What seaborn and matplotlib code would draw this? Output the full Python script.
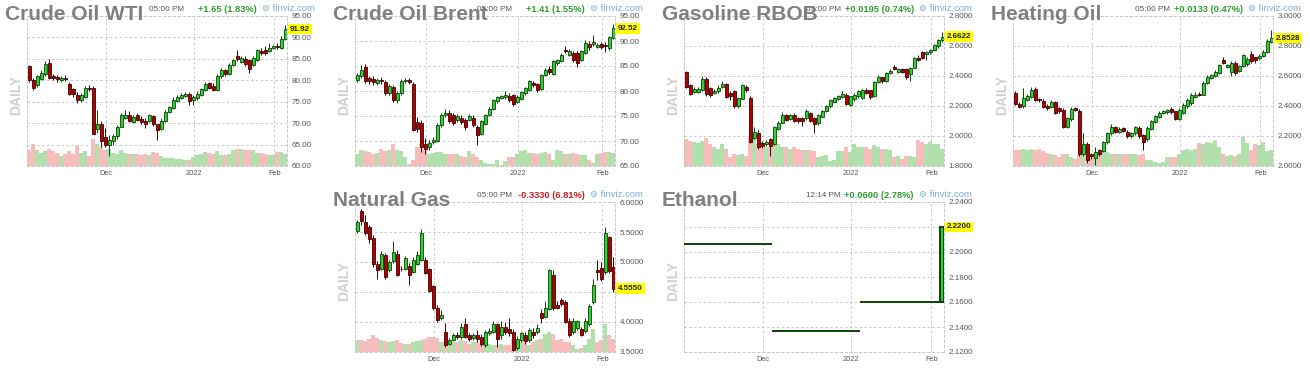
import numpy as np
import pandas as pd
import matplotlib
matplotlib.use("Agg")
import matplotlib.pyplot as plt
import matplotlib.transforms as mtransforms
import seaborn as sns

# finviz futures snapshot, daily candles Nov 2021 - Feb 4 2022
nymex_holidays = ["2021-11-25", "2021-12-24", "2022-01-17"]
nymex_days = pd.bdate_range("2021-11-03", "2022-02-04")
nymex_days = nymex_days[~nymex_days.isin(pd.to_datetime(nymex_holidays))]
ice_days = pd.bdate_range("2021-11-08", "2022-02-04")

# --- Crude Oil WTI
wti_open = [83.3, 80.0, 78.8, 80.4, 81.4, 84.1, 80.9, 80.8, 80.0, 80.6, 79.2, 78.0, 76.6, 75.3, 76.1, 78.3,
            78.3, 68.7, 69.8, 66.7, 65.0, 65.9, 66.9, 69.2, 71.3, 72.0, 70.3, 71.8, 71.0, 70.6, 70.6, 71.6,
            69.7, 68.7, 70.6, 72.6, 73.5, 75.2, 75.9, 76.3, 76.8, 75.3, 75.8, 76.6, 77.8, 79.3, 78.6, 77.8,
            81.0, 82.5, 81.4, 83.6, 85.6, 84.3, 84.9, 84.7, 83.5, 84.8, 86.9, 87.1, 86.9, 87.6, 88.0, 87.5, 89.7]
wti_close = [80.0, 78.3, 80.9, 81.6, 83.7, 80.6, 80.6, 80.2, 80.5, 80.2, 76.7, 76.9, 75.3, 76.5, 78.3, 78.0,
             67.5, 69.7, 65.9, 65.0, 66.1, 67.1, 69.2, 71.8, 72.0, 70.6, 71.4, 70.8, 70.2, 69.8, 71.8, 69.7,
             68.3, 70.6, 72.6, 73.7, 75.5, 76.0, 76.5, 76.8, 75.1, 76.2, 76.9, 77.9, 79.2, 78.3, 77.7, 80.9,
             82.4, 81.4, 83.5, 84.7, 84.9, 85.2, 83.9, 82.7, 85.3, 87.0, 86.3, 86.4, 87.5, 88.0, 87.7, 89.7, 91.92]
wti_high = [83.6, 80.6, 81.3, 82.3, 84.5, 85.0, 81.4, 81.2, 80.9, 81.2, 79.6, 78.3, 77.2, 77.0, 78.6, 78.8,
            78.6, 73.0, 70.4, 68.8, 67.3, 67.5, 69.6, 72.4, 73.1, 72.8, 72.0, 72.4, 71.6, 71.1, 72.2, 72.0,
            69.9, 71.1, 73.0, 74.0, 76.0, 76.6, 77.0, 77.3, 77.2, 76.5, 77.6, 78.3, 79.6, 79.6, 79.3, 81.4,
            82.8, 82.6, 84.0, 85.0, 87.0, 85.6, 85.6, 84.9, 85.7, 87.3, 87.6, 88.0, 88.6, 88.3, 88.7, 90.4, 93.0]
wti_low = [79.6, 77.8, 78.5, 80.1, 81.1, 80.2, 80.1, 79.6, 79.6, 79.8, 76.5, 76.2, 74.6, 75.0, 75.8, 77.6,
           67.4, 67.6, 64.4, 64.4, 62.4, 64.8, 66.4, 69.0, 71.0, 70.2, 70.0, 70.5, 69.8, 68.9, 70.3, 69.4,
           66.1, 68.4, 70.3, 72.4, 73.3, 75.0, 75.6, 76.1, 74.3, 74.3, 75.5, 76.4, 77.6, 77.9, 77.5, 77.6,
           80.6, 81.0, 81.2, 83.4, 84.5, 84.0, 83.3, 81.8, 83.3, 84.4, 85.8, 86.0, 86.6, 87.4, 87.2, 87.3, 89.3]
wti_volume = [49, 67, 49, 39, 45, 52, 45, 39, 29, 35, 45, 35, 60, 39, 45, 29, 82, 67, 57, 49, 52, 40,
              35, 47, 39, 35, 35, 35, 32, 35, 32, 42, 39, 29, 25, 23, 23, 21, 21, 19, 19, 27, 32, 37,
              42, 39, 35, 45, 34, 34, 35, 47, 50, 52, 49, 47, 47, 39, 39, 37, 33, 33, 42, 42, 37]
wti_ticks = [60, 65, 70, 75, 80, 85, 90, 95]

# --- Crude Oil Brent
brent_open = [82.2, 83.0, 84.9, 82.6, 82.5, 81.7, 82.3, 81.9, 79.7, 80.9, 78.2, 79.6, 82.0, 82.2, 81.4, 73.9,
              73.7, 69.5, 68.8, 69.8, 70.0, 73.2, 75.2, 75.6, 75.2, 74.2, 74.6, 74.2, 74.3, 74.7, 72.9, 71.5,
              73.5, 75.2, 76.5, 78.0, 78.6, 78.8, 79.0, 79.2, 77.9, 78.5, 79.6, 80.2, 81.6, 81.4, 80.5, 83.2,
              84.5, 83.5, 85.6, 86.0, 88.3, 87.3, 87.6, 87.6, 86.2, 87.7, 89.5, 89.5, 88.9, 89.4, 89.3, 88.6, 90.7]
brent_close = [83.2, 84.3, 82.1, 81.9, 81.7, 82.2, 81.9, 79.7, 81.0, 78.3, 79.6, 82.1, 82.2, 81.8, 72.3, 72.5,
               68.9, 68.5, 69.6, 70.3, 73.3, 75.2, 75.6, 74.0, 73.7, 75.1, 73.8, 72.8, 75.0, 73.2, 71.2, 73.9,
               75.2, 76.5, 78.2, 78.7, 78.9, 79.2, 78.3, 77.4, 78.9, 79.7, 80.6, 81.9, 81.2, 80.2, 83.2, 84.3,
               83.8, 85.9, 86.2, 87.3, 87.9, 87.9, 86.2, 85.5, 87.9, 89.7, 88.7, 89.7, 89.2, 88.9, 88.9, 90.7, 92.52]
brent_high = [83.6, 85.2, 85.4, 83.0, 83.0, 82.6, 82.8, 82.2, 81.4, 81.2, 80.0, 82.5, 82.6, 82.6, 81.8, 74.8,
              74.2, 70.6, 70.2, 70.8, 73.6, 75.6, 76.5, 76.3, 75.6, 75.5, 75.2, 74.6, 75.4, 75.2, 73.2, 74.3,
              75.5, 76.8, 78.5, 79.0, 79.3, 80.0, 79.6, 79.4, 79.2, 80.0, 80.9, 82.2, 82.0, 81.7, 83.5, 84.6,
              85.0, 86.2, 86.5, 87.6, 89.0, 88.4, 88.0, 88.0, 88.3, 90.3, 90.0, 91.2, 89.6, 89.8, 89.9, 91.0, 93.5]
brent_low = [81.9, 82.7, 81.6, 81.5, 81.3, 81.3, 81.5, 79.2, 79.3, 77.9, 77.6, 79.3, 81.7, 81.4, 72.0, 71.8,
             67.8, 67.5, 68.3, 69.4, 69.8, 72.8, 74.9, 73.7, 73.3, 73.9, 73.4, 72.3, 74.0, 72.8, 69.3, 71.2,
             73.3, 75.0, 76.3, 77.7, 78.4, 78.5, 77.9, 77.0, 77.6, 78.2, 79.3, 80.0, 80.8, 79.9, 80.2, 83.0,
             83.5, 83.2, 85.3, 85.8, 87.6, 87.0, 85.8, 84.9, 86.0, 87.4, 88.3, 89.0, 88.6, 88.5, 87.8, 88.2, 90.4]
brent_volume = [37, 47, 45, 42, 35, 39, 52, 45, 47, 65, 49, 45, 27, 7, 19, 57, 67, 52, 37, 39, 42, 42,
                37, 35, 35, 35, 29, 27, 45, 35, 27, 19, 10, 7, 5, 17, 3, 14, 27, 27, 37, 45, 49, 39,
                39, 37, 39, 42, 35, 19, 47, 45, 37, 37, 39, 35, 32, 32, 17, 9, 37, 39, 42, 42, 39]
brent_ticks = [65, 70, 75, 80, 85, 90, 95]

# --- Gasoline RBOB
rbob_open = [2.427, 2.337, 2.292, 2.292, 2.310, 2.382, 2.321, 2.290, 2.300, 2.330, 2.345, 2.290, 2.300, 2.198,
             2.250, 2.330, 2.254, 1.990, 2.020, 1.955, 1.946, 1.978, 1.950, 2.050, 2.090, 2.142, 2.115, 2.142,
             2.120, 2.120, 2.120, 2.153, 2.120, 2.085, 2.130, 2.164, 2.198, 2.230, 2.245, 2.260, 2.276, 2.210,
             2.245, 2.265, 2.254, 2.310, 2.305, 2.265, 2.360, 2.390, 2.366, 2.418, 2.463, 2.427, 2.445, 2.445,
             2.410, 2.456, 2.520, 2.557, 2.546, 2.557, 2.575, 2.600, 2.640]
rbob_close = [2.328, 2.281, 2.314, 2.314, 2.378, 2.283, 2.270, 2.300, 2.320, 2.345, 2.261, 2.270, 2.198, 2.254,
              2.337, 2.306, 1.962, 2.030, 1.928, 1.933, 1.962, 1.933, 2.058, 2.090, 2.142, 2.108, 2.142, 2.103,
              2.103, 2.098, 2.170, 2.103, 2.081, 2.142, 2.165, 2.200, 2.238, 2.254, 2.265, 2.283, 2.216, 2.265,
              2.276, 2.300, 2.305, 2.290, 2.260, 2.360, 2.395, 2.366, 2.418, 2.434, 2.445, 2.445, 2.427, 2.390,
              2.456, 2.520, 2.510, 2.523, 2.562, 2.575, 2.607, 2.643, 2.6622]
rbob_high = [2.432, 2.350, 2.325, 2.325, 2.400, 2.392, 2.330, 2.312, 2.340, 2.365, 2.352, 2.300, 2.310, 2.262,
             2.345, 2.340, 2.270, 2.060, 2.040, 1.968, 1.975, 1.990, 2.065, 2.100, 2.160, 2.150, 2.150, 2.155,
             2.130, 2.130, 2.180, 2.160, 2.125, 2.150, 2.175, 2.210, 2.245, 2.262, 2.275, 2.300, 2.285, 2.270,
             2.285, 2.310, 2.315, 2.318, 2.310, 2.365, 2.405, 2.395, 2.425, 2.445, 2.475, 2.452, 2.452, 2.452,
             2.462, 2.528, 2.540, 2.565, 2.568, 2.583, 2.612, 2.650, 2.695]
rbob_low = [2.318, 2.272, 2.285, 2.285, 2.300, 2.270, 2.260, 2.280, 2.290, 2.322, 2.255, 2.240, 2.185, 2.190,
            2.245, 2.295, 1.955, 1.980, 1.915, 1.920, 1.935, 1.870, 1.940, 2.040, 2.085, 2.100, 2.105, 2.095,
            2.090, 2.070, 2.110, 2.095, 2.018, 2.075, 2.125, 2.158, 2.190, 2.225, 2.238, 2.252, 2.205, 2.200,
            2.235, 2.255, 2.245, 2.280, 2.250, 2.258, 2.352, 2.355, 2.360, 2.410, 2.440, 2.420, 2.420, 2.380,
            2.370, 2.450, 2.500, 2.515, 2.505, 2.550, 2.568, 2.590, 2.630]
rbob_volume = [82, 75, 72, 69, 75, 85, 65, 57, 52, 65, 52, 27, 37, 32, 37, 29, 89, 92, 65, 72, 57, 57,
               69, 65, 57, 57, 52, 57, 52, 47, 47, 47, 45, 27, 29, 32, 15, 19, 45, 45, 57, 42, 67, 57,
               57, 57, 52, 62, 57, 52, 52, 49, 27, 29, 22, 29, 29, 27, 79, 72, 67, 72, 67, 67, 52]
rbob_ticks = [1.8, 2.0, 2.2, 2.4, 2.6, 2.8]

# --- Heating Oil
ho_open = [2.488, 2.416, 2.398, 2.443, 2.461, 2.515, 2.447, 2.431, 2.402, 2.393, 2.425, 2.387, 2.375, 2.263,
           2.312, 2.387, 2.370, 2.079, 2.146, 2.079, 2.056, 2.106, 2.101, 2.160, 2.220, 2.258, 2.229, 2.252,
           2.229, 2.200, 2.218, 2.252, 2.207, 2.177, 2.245, 2.296, 2.326, 2.353, 2.357, 2.380, 2.364, 2.312,
           2.353, 2.398, 2.420, 2.461, 2.483, 2.476, 2.555, 2.589, 2.600, 2.622, 2.708, 2.663, 2.627, 2.685,
           2.634, 2.667, 2.679, 2.746, 2.724, 2.717, 2.735, 2.762, 2.825]
ho_close = [2.416, 2.393, 2.454, 2.465, 2.506, 2.443, 2.438, 2.393, 2.387, 2.425, 2.353, 2.364, 2.263, 2.319,
            2.380, 2.375, 2.079, 2.146, 2.043, 2.065, 2.094, 2.079, 2.162, 2.222, 2.263, 2.229, 2.245, 2.236,
            2.200, 2.218, 2.258, 2.200, 2.162, 2.252, 2.297, 2.330, 2.353, 2.364, 2.371, 2.357, 2.312, 2.375,
            2.409, 2.443, 2.476, 2.476, 2.476, 2.555, 2.596, 2.604, 2.627, 2.672, 2.685, 2.672, 2.685, 2.618,
            2.667, 2.739, 2.712, 2.701, 2.708, 2.735, 2.762, 2.836, 2.8528]
ho_high = [2.500, 2.425, 2.520, 2.478, 2.530, 2.525, 2.455, 2.445, 2.412, 2.440, 2.432, 2.395, 2.385, 2.330,
           2.395, 2.395, 2.380, 2.220, 2.160, 2.090, 2.130, 2.115, 2.170, 2.230, 2.278, 2.270, 2.262, 2.260,
           2.240, 2.225, 2.270, 2.265, 2.215, 2.265, 2.305, 2.340, 2.365, 2.372, 2.380, 2.395, 2.370, 2.385,
           2.420, 2.452, 2.485, 2.490, 2.492, 2.565, 2.605, 2.612, 2.640, 2.682, 2.730, 2.680, 2.700, 2.700,
           2.675, 2.750, 2.725, 2.768, 2.730, 2.745, 2.775, 2.845, 2.905]
ho_low = [2.405, 2.385, 2.390, 2.435, 2.452, 2.435, 2.430, 2.385, 2.375, 2.385, 2.345, 2.355, 2.255, 2.255,
          2.300, 2.365, 2.065, 2.070, 2.020, 2.050, 2.005, 2.070, 2.095, 2.150, 2.210, 2.220, 2.220, 2.225,
          2.185, 2.190, 2.210, 2.190, 2.105, 2.170, 2.238, 2.285, 2.318, 2.345, 2.350, 2.345, 2.305, 2.305,
          2.345, 2.390, 2.410, 2.452, 2.468, 2.470, 2.548, 2.580, 2.592, 2.615, 2.678, 2.655, 2.600, 2.605,
          2.625, 2.660, 2.670, 2.690, 2.690, 2.708, 2.728, 2.752, 2.818]
ho_volume = [47, 47, 52, 49, 52, 49, 52, 45, 39, 37, 32, 27, 35, 35, 27, 22, 32, 62, 52, 27, 27, 35,
             47, 42, 37, 37, 37, 35, 35, 37, 35, 32, 35, 19, 19, 12, 9, 12, 27, 27, 27, 35, 47, 52,
             49, 52, 69, 67, 72, 69, 79, 57, 37, 29, 32, 29, 35, 87, 69, 47, 67, 62, 72, 45, 47]
ho_ticks = [2.0, 2.2, 2.4, 2.6, 2.8, 3.0]

# --- Natural Gas
ng_open = [5.52, 5.85, 5.66, 5.59, 5.40, 4.96, 4.89, 5.12, 4.86, 5.02, 5.14, 4.89, 4.88, 4.93, 4.84, 4.97,
           5.04, 5.03, 4.88, 4.60, 4.24, 4.07, 3.84, 3.64, 3.70, 3.79, 3.75, 3.96, 3.78, 3.74, 3.79, 3.75,
           3.61, 3.81, 3.84, 3.96, 3.78, 3.92, 3.89, 3.84, 3.56, 3.70, 3.79, 3.70, 3.84, 3.84, 4.15, 4.09,
           4.22, 4.79, 4.28, 4.37, 4.34, 4.02, 3.83, 3.90, 3.89, 3.85, 3.96, 4.33, 4.86, 4.90, 4.84, 5.42, 4.92]
ng_close = [5.66, 5.68, 5.49, 5.38, 4.96, 4.86, 5.14, 4.75, 5.00, 5.16, 4.79, 4.88, 5.06, 4.79, 5.03, 5.12,
            5.48, 4.82, 4.52, 4.23, 4.03, 4.11, 3.61, 3.70, 3.79, 3.75, 3.92, 3.75, 3.71, 3.78, 3.71, 3.64,
            3.84, 3.85, 3.96, 3.71, 3.92, 3.84, 3.81, 3.53, 3.72, 3.81, 3.68, 3.87, 3.78, 3.90, 4.06, 4.24,
            4.86, 4.24, 4.24, 4.30, 4.00, 3.78, 4.01, 4.02, 3.78, 4.02, 4.26, 4.62, 4.84, 4.72, 5.49, 4.85, 4.555]
ng_high = [5.70, 5.88, 5.78, 5.62, 5.45, 5.02, 5.18, 5.15, 5.04, 5.35, 5.20, 4.94, 5.10, 4.98, 5.08, 5.18,
           5.55, 5.08, 4.90, 4.62, 4.28, 4.20, 3.98, 3.74, 3.82, 3.84, 3.98, 4.06, 3.82, 3.82, 3.86, 3.80,
           3.86, 3.90, 4.02, 3.98, 4.02, 4.00, 4.06, 3.88, 3.76, 3.84, 3.84, 3.90, 3.90, 3.96, 4.22, 4.35,
           4.88, 4.86, 4.35, 4.40, 4.36, 4.06, 4.06, 4.04, 3.92, 4.06, 4.30, 4.72, 5.04, 5.00, 5.58, 5.44, 5.08]
ng_low = [5.48, 5.62, 5.45, 5.32, 4.92, 4.72, 4.86, 4.72, 4.84, 4.98, 4.76, 4.85, 4.86, 4.62, 4.82, 4.95,
          5.02, 4.80, 4.50, 4.20, 4.00, 4.04, 3.58, 3.62, 3.68, 3.72, 3.72, 3.73, 3.68, 3.70, 3.66, 3.60,
          3.58, 3.78, 3.82, 3.58, 3.72, 3.80, 3.76, 3.52, 3.54, 3.66, 3.64, 3.66, 3.74, 3.80, 3.98, 4.06,
          4.20, 4.20, 4.22, 4.27, 3.98, 3.75, 3.80, 3.86, 3.76, 3.82, 3.94, 4.30, 4.70, 4.68, 4.80, 4.82, 4.50]
ng_volume = [35, 35, 32, 38, 52, 42, 35, 32, 30, 32, 35, 28, 25, 25, 30, 32, 35, 40, 45, 45, 42, 30,
             30, 22, 30, 30, 35, 32, 25, 30, 30, 25, 30, 25, 22, 20, 25, 22, 20, 38, 32, 28, 30, 22,
             30, 35, 38, 55, 60, 55, 35, 38, 30, 30, 20, 10, 12, 20, 40, 68, 30, 35, 85, 52, 38]
ng_ticks = [3.5, 4.0, 4.5, 5.0, 5.5, 6.0]

# --- Ethanol (thinly traded: flat sessions)
eth_open = [2.2065, 2.2065, 2.2065, 2.2065, 2.2065, 2.2065, 2.2065, 2.2065, 2.2065, 2.2065, 2.2065,
            2.2065, 2.2065, 2.2065, 2.2065, 2.2065, 2.2065, 2.2065, 2.2065, 2.2065, 2.2065, 2.2065,
            2.1365, 2.1365, 2.1365, 2.1365, 2.1365, 2.1365, 2.1365, 2.1365, 2.1365, 2.1365, 2.1365,
            2.1365, 2.1365, 2.1365, 2.1365, 2.1365, 2.1365, 2.1365, 2.1365, 2.1365, 2.1365, 2.1365,
            2.1600, 2.1600, 2.1600, 2.1600, 2.1600, 2.1600, 2.1600, 2.1600, 2.1600, 2.1600, 2.1600,
            2.1600, 2.1600, 2.1600, 2.1600, 2.1600, 2.1600, 2.1600, 2.1600, 2.1600, 2.1600]
eth_close = [2.2065, 2.2065, 2.2065, 2.2065, 2.2065, 2.2065, 2.2065, 2.2065, 2.2065, 2.2065, 2.2065,
             2.2065, 2.2065, 2.2065, 2.2065, 2.2065, 2.2065, 2.2065, 2.2065, 2.2065, 2.2065, 2.2065,
             2.1365, 2.1365, 2.1365, 2.1365, 2.1365, 2.1365, 2.1365, 2.1365, 2.1365, 2.1365, 2.1365,
             2.1365, 2.1365, 2.1365, 2.1365, 2.1365, 2.1365, 2.1365, 2.1365, 2.1365, 2.1365, 2.1365,
             2.1600, 2.1600, 2.1600, 2.1600, 2.1600, 2.1600, 2.1600, 2.1600, 2.1600, 2.1600, 2.1600,
             2.1600, 2.1600, 2.1600, 2.1600, 2.1600, 2.1600, 2.1600, 2.1600, 2.1600, 2.2200]
eth_ticks = [2.12, 2.14, 2.16, 2.18, 2.20, 2.22, 2.24]

panel_names = ["Crude Oil WTI", "Crude Oil Brent", "Gasoline RBOB", "Heating Oil", "Natural Gas", "Ethanol"]
panel_times = ["05:00 PM", "05:00 PM", "05:00 PM", "05:00 PM", "05:00 PM", "12:14 PM"]
panel_changes = ["+1.65 (1.83%)", "+1.41 (1.55%)", "+0.0195 (0.74%)", "+0.0133 (0.47%)",
                 "-0.3330 (6.81%)", "+0.0600 (2.78%)"]
panel_last = ["91.92", "92.52", "2.6622", "2.8528", "4.5550", "2.2200"]

# ---------------------------------------------------------------
sns.set_style("white")
plt.rcParams["font.family"] = ["Liberation Sans", "DejaVu Sans"]

W, H = 1310, 381
GREEN, GREEN_EDGE = "#2fd12f", "#0b420b"
RED, RED_EDGE = "#b50000", "#3a0000"
VOL_UP, VOL_DN = "#b2e0ad", "#f7bcbc"
GRID = "#c8c8c8"
DASH = (0, (2.5, 2.5))

fig = plt.figure(figsize=(W / 100, H / 100), dpi=100)


def fx(px):
    return px / W


def fy(py):
    return 1 - py / H


panels = [
    dict(days=nymex_days, o=wti_open, h=wti_high, l=wti_low, c=wti_close, v=wti_volume,
         ylim=(60, 95), ticks=wti_ticks, fmt="{:.2f}", off=0, top=0, bw=0.75),
    dict(days=ice_days, o=brent_open, h=brent_high, l=brent_low, c=brent_close, v=brent_volume,
         ylim=(65, 95), ticks=brent_ticks, fmt="{:.2f}", off=328, top=0, bw=0.75),
    dict(days=nymex_days, o=rbob_open, h=rbob_high, l=rbob_low, c=rbob_close, v=rbob_volume,
         ylim=(1.8, 2.8), ticks=rbob_ticks, fmt="{:.4f}", off=657, top=0, bw=0.75),
    dict(days=nymex_days, o=ho_open, h=ho_high, l=ho_low, c=ho_close, v=ho_volume,
         ylim=(2.0, 3.0), ticks=ho_ticks, fmt="{:.4f}", off=986, top=0, bw=0.75),
    dict(days=nymex_days, o=ng_open, h=ng_high, l=ng_low, c=ng_close, v=ng_volume,
         ylim=(3.5, 6.0), ticks=ng_ticks, fmt="{:.4f}", off=328, top=186, bw=0.75),
    dict(days=nymex_days, o=eth_open, h=eth_close, l=eth_open, c=eth_close, v=None,
         ylim=(2.12, 2.24), ticks=eth_ticks, fmt="{:.4f}", off=657, top=186, bw=1.0),
]

for i, p in enumerate(panels):
    off, top = p["off"], p["top"]
    left, bottom = off + 27, top + 166
    rect = [fx(left), fy(bottom), 260 / W, 150 / H]
    days = pd.Series(p["days"])
    x = np.arange(len(days))
    o, h, l, c = (np.asarray(p[k], float) for k in "ohlc")
    h = np.maximum(h, np.maximum(o, c))
    l = np.minimum(l, np.minimum(o, c))
    up = c >= o

    if p["v"] is not None:
        axv = fig.add_axes(rect)
        vdf = pd.DataFrame({"pos": x, "vol": p["v"], "dir": np.where(up, "up", "down")})
        sns.barplot(data=vdf, x="pos", y="vol", hue="dir", palette={"up": VOL_UP, "down": VOL_DN},
                    native_scale=True, dodge=False, width=0.92, saturation=1, linewidth=0,
                    errorbar=None, legend=False, ax=axv)
        axv.set_xlim(-0.5, len(x) - 0.5)
        axv.set_ylim(0, 450)
        axv.axis("off")

    ax = fig.add_axes(rect)
    ax.patch.set_alpha(0)
    edge = np.where(up, GREEN_EDGE, RED_EDGE)
    ax.vlines(x, l, h, colors=edge, lw=0.7, zorder=2)
    ax.bar(x, c - o, bottom=o, width=p["bw"], color=np.where(up, GREEN, RED),
           edgecolor=edge, linewidth=1.4 if p["v"] is None else 0.6, zorder=3)

    ax.set_xlim(-0.5, len(x) - 0.5)
    ax.set_ylim(p["ylim"])
    ax.yaxis.tick_right()
    ax.set_yticks(p["ticks"])
    ax.set_yticklabels([p["fmt"].format(t) for t in p["ticks"]])
    # finviz drops the axis label that sits right under the last-price tag
    px_per_unit = 150 / (p["ylim"][1] - p["ylim"][0])
    for t, lab in zip(p["ticks"], ax.get_yticklabels()):
        if abs(t - c[-1]) * px_per_unit < 6:
            lab.set_visible(False)

    months = days.dt.month.values
    starts = np.flatnonzero(months != np.roll(months, 1))[1:]
    labels = ["2022" if months[k] == 1 else days[k].strftime("%b") for k in starts]
    ax.set_xticks(starts + 0.3)
    ax.set_xticklabels(labels)

    ax.tick_params(length=0, colors="#555555")
    ax.tick_params(axis="y", pad=3.5, labelsize=5.8)
    ax.tick_params(axis="x", pad=3, labelsize=5.3)
    ax.grid(True, color=GRID, lw=0.7, ls=DASH)
    for s in ax.spines.values():
        s.set_visible(True)
        s.set_linestyle(DASH)
        s.set_color(GRID)
        s.set_linewidth(0.7)

    # last price tag
    trans = mtransforms.blended_transform_factory(ax.transAxes, ax.transData)
    ax.text(1 + 3 / 260, c[-1], panel_last[i], transform=trans, ha="left", va="center",
            fontsize=5.8, fontweight="bold", color="#222222", zorder=10, clip_on=False,
            bbox=dict(boxstyle="square,pad=0.22", fc="#ffff00", ec="none"))

    # header texts
    chg = panel_changes[i]
    fig.text(fx(off + 184), fy(top + 9.5), panel_times[i], fontsize=5.9, color="#555555",
             ha="right", va="center", zorder=1)
    fig.text(fx(off + 257), fy(top + 9.5), chg, fontsize=6.7, fontweight="bold",
             color="#cc2020" if chg.startswith("-") else "#2e9e2e", ha="right", va="center", zorder=1)
    fig.text(fx(off + 262), fy(top + 8.5), "\u229a finviz.com", fontsize=6.8, color="#7ea9d4",
             ha="left", va="center", zorder=1)
    fig.text(fx(off + 16), fy(top + 95), "DAILY", rotation=90, fontsize=10, fontweight="bold",
             color="#d0d0d0", ha="center", va="center")
    fig.text(fx(off + 5), fy(top + 20), panel_names[i], fontsize=15, fontweight="bold",
             color="#808080", ha="left", va="baseline", zorder=5)

fig.savefig("out.png", dpi=100)
